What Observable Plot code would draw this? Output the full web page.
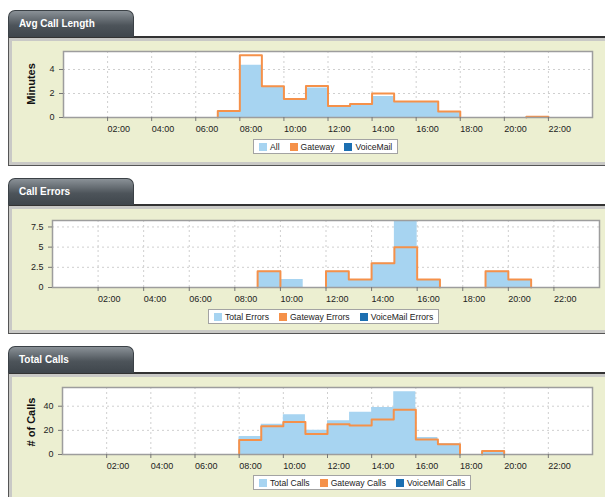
<!DOCTYPE html>
<html>
<head>
<meta charset="utf-8">
<script src="https://cdn.jsdelivr.net/npm/d3@7"></script>
<script src="https://cdn.jsdelivr.net/npm/@observablehq/plot@0.6"></script>
<style>
  html, body { margin: 0; padding: 0; background: #fff; }
  #root { position: relative; width: 605px; height: 497px; overflow: hidden; font-family: "Liberation Sans", Arial, sans-serif; }
  .tab { position: absolute; left: 8px; width: 126px; height: 27px; box-sizing: border-box;
         border-radius: 7px 7px 0 0; border: 1px solid #3b4146; border-bottom: none;
         background: linear-gradient(#8a9197, #4d545a 55%, #3f464c);
         color: #fff; font: bold 10px "Liberation Sans", Arial, sans-serif; line-height: 26px; padding-left: 10px; z-index: 2; }
  .body { position: absolute; left: 8px; width: 620px; box-sizing: border-box;
          border: 1px solid #555; border-top: 2px solid #333; background: #ecefd1;
          box-shadow: inset 0 0 0 3px #c9c9c6; }
  .plot { position: absolute; left: 0; z-index: 1; }
  .ytitle { position: absolute; font: bold 11px "Liberation Sans", Arial, sans-serif; color: #111;
            transform: translate(-50%, -50%) rotate(-90deg); white-space: nowrap; z-index: 2; }
  .legend { position: absolute; height: 15px; box-sizing: border-box; background: #fff; border: 1px solid #a3a3a3;
            display: flex; align-items: center; padding: 0 5px 0 5px; font: 8.6px "Liberation Sans", Arial, sans-serif; color: #222; z-index: 3; white-space: nowrap; }
  .legend .it { display: flex; align-items: center; margin-right: 10px; }
  .legend .it:last-child { margin-right: 0; }
  .legend .sw { width: 8px; height: 8px; margin-right: 3px; }
</style>
</head>
<body>
<div id="root"></div>
<script>
// ---------- data (hour of day 0..23, null = no data) ----------
const hourLabels = ["02:00","04:00","06:00","08:00","10:00","12:00","14:00","16:00","18:00","20:00","22:00"];
const hourTicks = [2,4,6,8,10,12,14,16,18,20,22];

const avgAll       = [null,null,null,null,null,null,null,0.5,4.35,2.55,1.5,2.45,0.9,1.08,1.75,1.3,1.3,0.48,null,null,null,0.05,null,null];
const avgGateway   = [null,null,null,null,null,null,null,0.55,5.18,2.6,1.55,2.62,0.96,1.13,2.0,1.33,1.33,0.51,null,null,null,0.06,null,null];
const avgVoiceMail = [null,null,null,null,null,null,null,null,null,null,null,null,null,null,null,null,null,null,null,null,null,null,null,null];

const errTotal     = [null,null,null,null,null,null,null,null,null,2,1,null,2,1,3,8.3,1,null,null,2,1,null,null,null];
const errGateway   = [null,null,null,null,null,null,null,null,null,2,null,null,2,1,3,5,1,null,null,2,1,null,null,null];
const errVoiceMail = [null,null,null,null,null,null,null,null,null,null,null,null,null,null,null,null,null,null,null,null,null,null,null,null];

const callsTotal     = [null,null,null,null,null,null,null,null,15,25,33,20,28,35,39,52,14,9,null,2,null,null,null,null];
const callsGateway   = [null,null,null,null,null,null,null,null,12,23.5,27,17,25,24,29,37,12.5,8.5,null,3,null,null,null,null];
const callsVoiceMail = [null,null,null,null,null,null,null,null,null,null,null,null,null,null,null,null,null,null,null,null,null,null,null,null];

const avgTicks = [0,2,4];
const errTicks = [0,2.5,5,7.5];
const callsTicks = [0,20,40];

const BLUE = "#a7d4f1", ORANGE = "#f5914a", DARK = "#1c6fb1";

// ---------- helpers ----------
function stepPoints(vals) {
  const pts = [];
  let h = 0;
  while (h < vals.length) {
    if (vals[h] == null) { h++; continue; }
    pts.push({x: h, y: 0});
    while (h < vals.length && vals[h] != null) { pts.push({x: h, y: vals[h]}); h++; }
    pts.push({x: h, y: 0});
    pts.push({x: h, y: NaN});
  }
  return pts;
}

function chart(cfg) {
  const a = stepPoints(cfg.total), g = stepPoints(cfg.gateway), v = stepPoints(cfg.voicemail);
  const grid = {stroke: "#cfcfcf", strokeOpacity: 1, strokeDasharray: "2,3"};
  return Plot.plot({
    width: 605, height: cfg.height,
    marginLeft: cfg.mL, marginRight: cfg.mR, marginTop: cfg.mT, marginBottom: cfg.mB,
    x: {domain: [0, 24]},
    y: {domain: cfg.yDomain},
    style: {background: "transparent", fontFamily: "'Liberation Sans', Arial, sans-serif", fontSize: "9px", color: "#222", overflow: "visible"},
    marks: [
      Plot.frame({fill: "white", stroke: "none"}),
      Plot.gridX(hourTicks, grid),
      Plot.gridY(cfg.yTicks.filter(d => d > 0), grid),
      Plot.areaY(a, {x: "x", y: "y", curve: "step-after", fill: BLUE}),
      Plot.areaY(v, {x: "x", y: "y", curve: "step-after", fill: DARK}),
      Plot.line(g, {x: "x", y: "y", curve: "step-after", stroke: ORANGE, strokeWidth: 2}),
      Plot.frame({stroke: "#9d9d9d", strokeWidth: 1.5}),
      Plot.axisX(hourTicks, {tickFormat: (d, i) => hourLabels[i], tickSize: 4, tickPadding: 4, textAnchor: "start", label: null, stroke: "#777"}),
      Plot.axisY(cfg.yTicks, {tickFormat: d => String(d), tickSize: 4, tickPadding: 5, label: null, stroke: "#777"})
    ]
  });
}

const root = document.getElementById("root");
function el(cls, css, html) {
  const d = document.createElement("div");
  d.className = cls;
  Object.assign(d.style, css);
  if (html != null) d.innerHTML = html;
  root.appendChild(d);
  return d;
}
function legend(left, top, items) {
  const lg = el("legend", {left: left + "px", top: top + "px"});
  for (const [name, color] of items) {
    const it = document.createElement("div");
    it.className = "it";
    it.innerHTML = `<span class="sw" style="background:${color}"></span><span>${name}</span>`;
    lg.appendChild(it);
  }
}

// ---------- panel 1 ----------
el("body", {top: "36px", height: "130px"});
el("tab", {top: "10px"}, "Avg Call Length");
const p1 = el("plot", {top: "40px"});
p1.appendChild(chart({height: 100, mL: 63, mR: 13, mT: 11, mB: 23, yDomain: [0, 5.5], yTicks: avgTicks,
  total: avgAll, gateway: avgGateway, voicemail: avgVoiceMail}));
el("ytitle", {left: "31px", top: "84px"}, "Minutes");
legend(253, 139, [["All", BLUE], ["Gateway", ORANGE], ["VoiceMail", DARK]]);

// ---------- panel 2 ----------
el("body", {top: "204px", height: "130px"});
el("tab", {top: "178px"}, "Call Errors");
const p2 = el("plot", {top: "208px"});
p2.appendChild(chart({height: 100, mL: 52, mR: 6, mT: 12, mB: 21, yDomain: [0, 8.3], yTicks: errTicks,
  total: errTotal, gateway: errGateway, voicemail: errVoiceMail}));
legend(208, 309, [["Total Errors", BLUE], ["Gateway Errors", ORANGE], ["VoiceMail Errors", DARK]]);

// ---------- panel 3 ----------
el("body", {top: "372px", height: "140px"});
el("tab", {top: "346px"}, "Total Calls");
const p3 = el("plot", {top: "376px"});
p3.appendChild(chart({height: 100, mL: 62, mR: 13, mT: 11, mB: 22, yDomain: [0, 55.5], yTicks: callsTicks,
  total: callsTotal, gateway: callsGateway, voicemail: callsVoiceMail}));
el("ytitle", {left: "31px", top: "422px"}, "# of Calls");
legend(253, 475, [["Total Calls", BLUE], ["Gateway Calls", ORANGE], ["VoiceMail Calls", DARK]]);
</script>
</body>
</html>
